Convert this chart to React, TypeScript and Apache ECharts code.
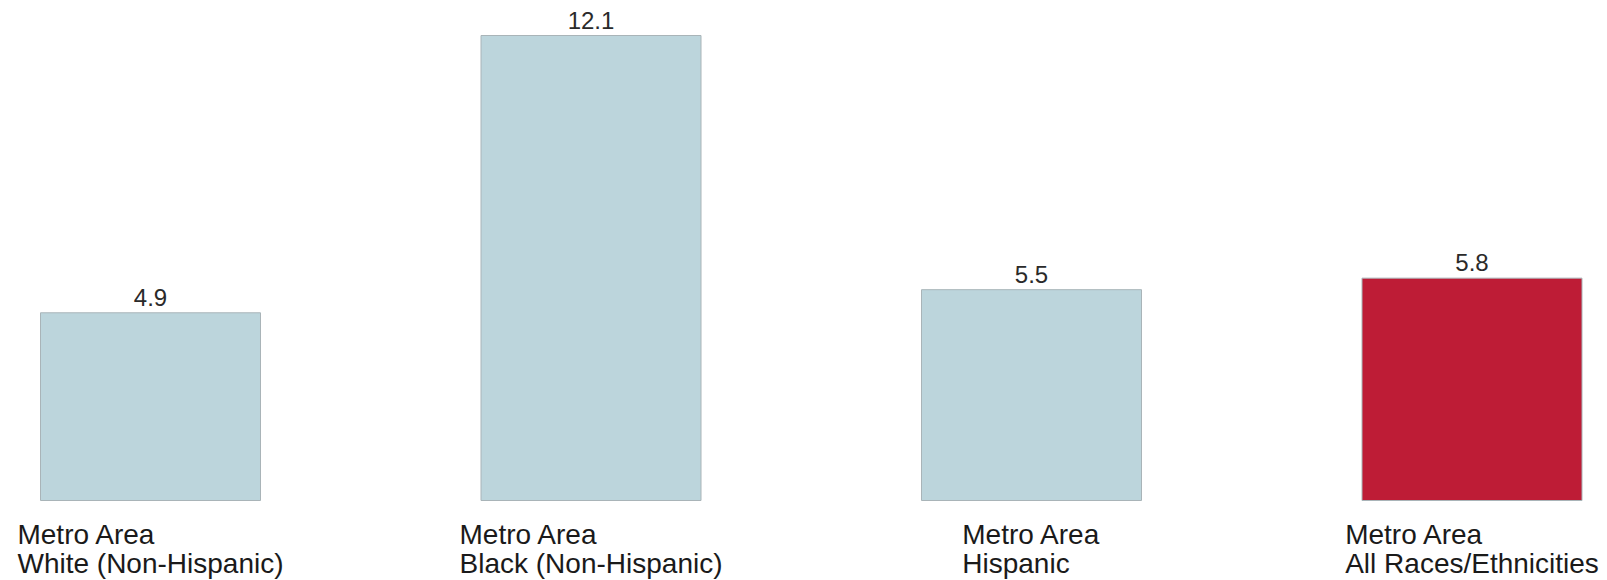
import React, { useEffect, useRef } from "react";
import * as echarts from "echarts";

const categories = [
  "Metro Area\nWhite (Non-Hispanic)",
  "Metro Area\nBlack (Non-Hispanic)",
  "Metro Area\nHispanic",
  "Metro Area\nAll Races/Ethnicities",
];
const values = [4.9, 12.1, 5.5, 5.8];
const barColors = ["#BCD5DC", "#BCD5DC", "#BCD5DC", "#BE1C36"];

export default function App() {
  const ref = useRef<HTMLDivElement>(null);
  useEffect(() => {
    document.body.style.margin = "0";
    const chart = echarts.init(ref.current!, null, { renderer: "svg" });
    chart.setOption({
      animation: false,
      backgroundColor: "#ffffff",
      grid: {
        left: -69.75,
        right: -85.25,
        top: 35,
        bottom: 79,
        containLabel: false,
        outerBoundsMode: "none",
      },
      xAxis: {
        type: "category",
        data: categories,
        axisLine: { show: false },
        axisTick: { show: false },
        axisLabel: {
          interval: 0,
          margin: 19,
          align: "center",
          formatter: (v: string) =>
            v
              .split("\n")
              .map((l) => "{a|" + l + "}")
              .join("\n"),
          rich: {
            a: {
              align: "left",
              fontFamily: "Liberation Sans, Arial, sans-serif",
              fontSize: 28,
              lineHeight: 29,
              color: "#1a1a1a",
            },
          },
        },
      },
      yAxis: {
        type: "value",
        min: 0,
        max: 12.1,
        show: false,
        splitLine: { show: false },
      },
      series: [
        {
          type: "bar",
          barWidth: 221,
          data: values.map((v, i) => ({
            value: v,
            itemStyle: { color: barColors[i] },
          })),
          itemStyle: { borderColor: "#a9b4b8", borderWidth: 1 },
          label: {
            show: true,
            position: "top",
            distance: 3,
            fontFamily: "Liberation Sans, Arial, sans-serif",
            fontSize: 24,
            color: "#2a2a2a",
          },
        },
      ],
    });
    return () => chart.dispose();
  }, []);
  return <div ref={ref} style={{ width: 1607, height: 580 }} />;
}
